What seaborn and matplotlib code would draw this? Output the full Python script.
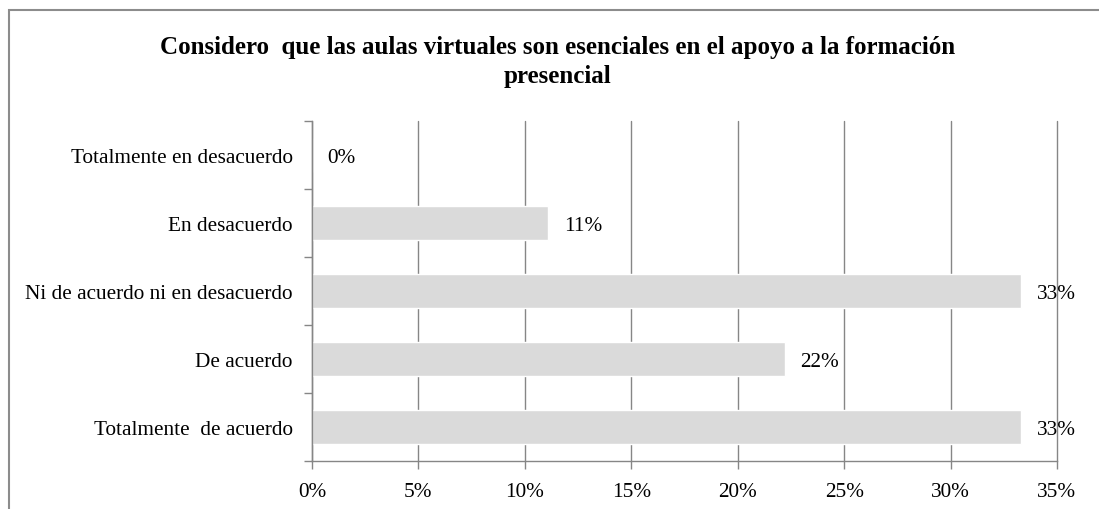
import matplotlib
matplotlib.use("Agg")
import matplotlib.pyplot as plt
import seaborn as sns
import pandas as pd
from matplotlib.patches import Rectangle
from matplotlib.ticker import PercentFormatter, FixedLocator

categories = [
    "Totalmente en desacuerdo",
    "En desacuerdo",
    "Ni de acuerdo ni en desacuerdo",
    "De acuerdo",
    "Totalmente  de acuerdo",
]
values = [0.0, 0.1111, 0.3333, 0.2222, 0.3333]
title_lines = [
    "Considero  que las aulas virtuales son esenciales en el apoyo a la formación",
    "presencial",
]
x_ticks = [0, 0.05, 0.10, 0.15, 0.20, 0.25, 0.30, 0.35]

sns.set_style("white")
plt.rcParams["font.family"] = ["Liberation Serif", "DejaVu Serif"]
plt.rcParams["text.color"] = "black"
plt.rcParams["xtick.color"] = "black"
plt.rcParams["ytick.color"] = "black"

W, H = 1099, 510
fig = plt.figure(figsize=(W / 100, H / 100), dpi=100)
ax = fig.add_axes([312 / W, 1 - 462 / H, (1057 - 312) / W, (462 - 122) / H])

df = pd.DataFrame({"cat": categories, "val": values})
sns.barplot(data=df, y="cat", x="val", orient="h", color="#dadada",
            width=0.5, saturation=1, ax=ax, zorder=2)

grid_c = "#868686"
ax.set_xlim(0, 0.35)
ax.set_ylim(4.5, -0.5)
ax.xaxis.set_major_locator(FixedLocator(x_ticks))
ax.xaxis.set_major_formatter(PercentFormatter(1.0, decimals=0))
ax.grid(axis="x", color=grid_c, linewidth=1, zorder=0)
ax.set_axisbelow(True)
ax.set_xlabel("")
ax.set_ylabel("")
for gl in ax.get_xgridlines():
    gl.set_clip_on(False)

for s in ["top", "right"]:
    ax.spines[s].set_visible(False)
for s in ["left", "bottom"]:
    ax.spines[s].set_color(grid_c)
    ax.spines[s].set_linewidth(1)

fs = 15.3
ax.tick_params(axis="x", which="major", length=6, width=1, color=grid_c,
               labelcolor="black", direction="out", labelsize=fs, pad=9,
               bottom=True)
ax.tick_params(axis="y", which="major", length=0, labelsize=fs, pad=14,
               labelcolor="black", left=True)
ax.yaxis.set_minor_locator(FixedLocator([-0.5, 0.5, 1.5, 2.5, 3.5, 4.5]))
ax.tick_params(axis="y", which="minor", length=6, width=1, color=grid_c,
               direction="out", left=True)

for cont in ax.containers:
    labs = ax.bar_label(cont, labels=[f"{v:.0%}" for v in values], padding=11,
                        fontsize=fs, color="black")
    for t in labs:
        t.set_verticalalignment("center_baseline")

fig.text(558 / W, 1 - 54 / H, title_lines[0], ha="center", va="baseline",
         fontsize=18, fontweight="bold", color="black")
fig.text(558 / W, 1 - 83 / H, title_lines[1], ha="center", va="baseline",
         fontsize=18, fontweight="bold", color="black")

fig.add_artist(Rectangle((8.5 / W, -0.2), 2.0, 1.2 - 10.7 / H,
                         transform=fig.transFigure, fill=False,
                         edgecolor="#8c8c8c", linewidth=1.5))

fig.savefig("out.png", dpi=100)
